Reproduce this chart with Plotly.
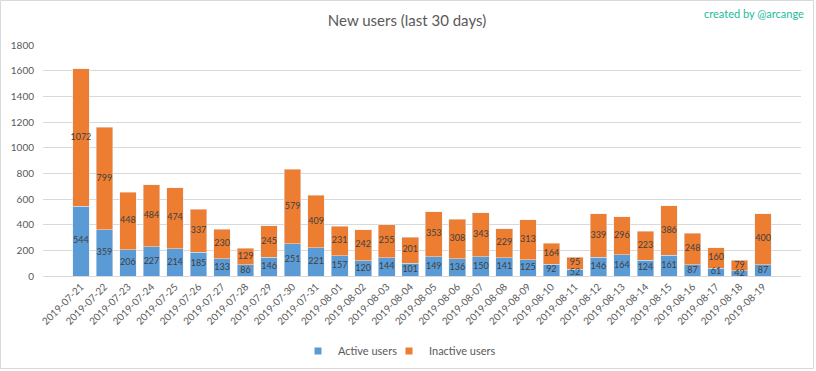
import plotly.graph_objects as go

dates = ["2019-07-21","2019-07-22","2019-07-23","2019-07-24","2019-07-25","2019-07-26","2019-07-27",
         "2019-07-28","2019-07-29","2019-07-30","2019-07-31","2019-08-01","2019-08-02","2019-08-03",
         "2019-08-04","2019-08-05","2019-08-06","2019-08-07","2019-08-08","2019-08-09","2019-08-10",
         "2019-08-11","2019-08-12","2019-08-13","2019-08-14","2019-08-15","2019-08-16","2019-08-17",
         "2019-08-18","2019-08-19"]
active = [544,359,206,227,214,185,133,86,146,251,221,157,120,144,101,149,136,150,141,125,92,52,146,164,124,161,87,61,42,87]
inactive = [1072,799,448,484,474,337,230,129,245,579,409,231,242,255,201,353,308,343,229,313,164,95,339,296,223,386,248,160,79,400]
y_ticks = [0,200,400,600,800,1000,1200,1400,1600,1800]

FONT = "Lato"
BLUE, ORANGE = "#5b9bd5", "#ed7d31"
LABEL_COLOR = "#404040"

fig = go.Figure()
fig.add_trace(go.Bar(x=dates, y=active, name="Active users", marker_color=BLUE, showlegend=False))
fig.add_trace(go.Bar(x=dates, y=inactive, name="Inactive users", marker_color=ORANGE, showlegend=False))

# data labels centred in each segment (derived from the data)
act_mid = [a / 2 for a in active]
ina_mid = [a + i / 2 for a, i in zip(active, inactive)]
fig.add_trace(go.Scatter(x=dates, y=act_mid, mode="text", text=[str(v) for v in active],
                         textfont=dict(size=9, color=LABEL_COLOR, family=FONT),
                         showlegend=False, hoverinfo="skip"))
fig.add_trace(go.Scatter(x=dates, y=ina_mid, mode="text", text=[str(v) for v in inactive],
                         textfont=dict(size=9, color=LABEL_COLOR, family=FONT),
                         showlegend=False, hoverinfo="skip"))

# legend entries with small square markers (two legends for tight placement)
fig.add_trace(go.Scatter(x=[None], y=[None], mode="markers", name="Active users", legend="legend",
                         marker=dict(symbol="square", size=7, color=BLUE)))
fig.add_trace(go.Scatter(x=[None], y=[None], mode="markers", name="Inactive users", legend="legend2",
                         marker=dict(symbol="square", size=7, color=ORANGE)))

W, H = 816, 371
L, R, T, B = 43, 15, 45, 95
pw, ph = W - L - R, H - T - B

legend_common = dict(orientation="h", xref="container", xanchor="left",
                     yref="container", y=1 - 351/H, yanchor="middle",
                     font=dict(size=11, color="#595959", family=FONT), itemwidth=30,
                     bgcolor="rgba(0,0,0,0)")

fig.update_layout(
    barmode="stack", bargap=0.29,
    width=W, height=H, margin=dict(l=L, r=R, t=T, b=B, autoexpand=False),
    paper_bgcolor="white", plot_bgcolor="white",
    font=dict(family=FONT, color="#595959", size=10),
    title=dict(text="New users (last 30 days)", xref="container", x=407/W, xanchor="center",
               yref="container", y=1 - 21/H, yanchor="middle",
               font=dict(size=15, color="#595959", family=FONT)),
    legend=dict(x=298/W, **legend_common),
    legend2=dict(x=389/W, **legend_common),
    xaxis=dict(type="category", tickangle=-45, showgrid=False, showline=True, linecolor="#d9d9d9",
               ticks="", tickfont=dict(size=10, color="#595959"), automargin=False),
    yaxis=dict(range=[0, 1800], tickvals=y_ticks, showgrid=True, gridcolor="#d9d9d9",
               zeroline=False, showline=False, ticks="", ticklabelstandoff=8,
               tickfont=dict(size=10, color="#595959"), automargin=False),
    annotations=[dict(text="created by @arcange", xref="paper", yref="paper",
                      x=(806 - L) / pw, y=(T + ph - 13) / ph,
                      xanchor="right", yanchor="middle", showarrow=False,
                      font=dict(size=11, color="#1abc9c", family=FONT))],
    shapes=[dict(type="rect", xref="paper", yref="paper",
                 x0=(0.5 - L) / pw, x1=(813.5 - L) / pw,
                 y0=(T + ph - 368.5) / ph, y1=(T + ph - 0.5) / ph,
                 line=dict(color="#d9d9d9", width=1), layer="below")],
)
fig.write_html("out.html", config={"displayModeBar": False},
               post_script="document.body.style.margin='0';document.body.style.overflow='hidden';")
